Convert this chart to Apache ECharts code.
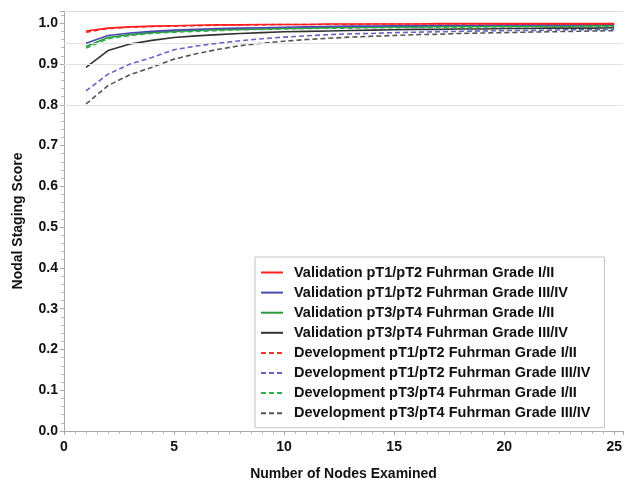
<!DOCTYPE html>
<html>
<head>
<meta charset="utf-8">
<script src="https://cdn.jsdelivr.net/npm/echarts@6/dist/echarts.min.js"></script>
<style>html,body{margin:0;padding:0;background:#fff}#c{width:625px;height:486px}</style>
</head>
<body>
<div id="c"></div>
<script>
const nodes = [1,2,3,4,5,6,7,8,9,10,11,12,13,14,15,16,17,18,19,20,21,22,23,24,25];
const seriesNames = [
  'Validation pT1/pT2 Fuhrman Grade I/II',
  'Validation pT1/pT2 Fuhrman Grade III/IV',
  'Validation pT3/pT4 Fuhrman Grade I/II',
  'Validation pT3/pT4 Fuhrman Grade III/IV',
  'Development pT1/pT2 Fuhrman Grade I/II',
  'Development pT1/pT2 Fuhrman Grade III/IV',
  'Development pT3/pT4 Fuhrman Grade I/II',
  'Development pT3/pT4 Fuhrman Grade III/IV'
];
const valT12G12 = [0.981,0.988,0.991,0.993,0.994,0.995,0.996,0.996,0.997,0.997,0.997,0.998,0.998,0.998,0.998,0.998,0.999,0.999,0.999,0.999,0.999,0.999,0.999,0.999,0.999];
const valT12G34 = [0.951,0.970,0.976,0.980,0.983,0.985,0.987,0.988,0.989,0.990,0.991,0.992,0.993,0.993,0.994,0.994,0.995,0.995,0.995,0.996,0.996,0.996,0.996,0.997,0.997];
const valT34G12 = [0.943,0.965,0.972,0.977,0.980,0.982,0.984,0.985,0.986,0.987,0.988,0.989,0.990,0.990,0.991,0.991,0.992,0.992,0.992,0.993,0.993,0.993,0.993,0.994,0.994];
const valT34G34 = [0.892,0.933,0.949,0.958,0.965,0.969,0.972,0.975,0.977,0.979,0.980,0.981,0.982,0.983,0.984,0.985,0.985,0.986,0.986,0.987,0.987,0.988,0.988,0.988,0.989];
const devT12G12 = [0.978,0.987,0.990,0.992,0.993,0.994,0.995,0.996,0.996,0.997,0.997,0.997,0.997,0.998,0.998,0.998,0.998,0.998,0.998,0.998,0.998,0.998,0.998,0.998,0.998];
const devT12G34 = [0.834,0.875,0.900,0.916,0.935,0.944,0.951,0.957,0.962,0.966,0.969,0.972,0.974,0.975,0.977,0.978,0.979,0.980,0.981,0.982,0.982,0.983,0.984,0.984,0.985];
const devT34G12 = [0.939,0.962,0.970,0.975,0.978,0.980,0.982,0.984,0.985,0.986,0.987,0.988,0.988,0.989,0.989,0.990,0.990,0.990,0.991,0.991,0.991,0.992,0.992,0.992,0.992];
const devT34G34 = [0.802,0.847,0.874,0.892,0.912,0.925,0.936,0.945,0.951,0.956,0.960,0.963,0.966,0.968,0.970,0.972,0.973,0.975,0.976,0.977,0.978,0.979,0.980,0.981,0.982];
const xTicks = [0,5,10,15,20,25];
const yTicks = [0,0.1,0.2,0.3,0.4,0.5,0.6,0.7,0.8,0.9,1.0];
const refLines = [0.8,0.9,0.95];

const allData = [valT12G12,valT12G34,valT34G12,valT34G34,devT12G12,devT12G34,devT34G12,devT34G34];
const colors = ['#ff2020','#4a4ab0','#2a9a3a','#333333','#ff3030','#6464c8','#30b048','#555555'];
const dashed = [false,false,false,false,true,true,true,true];
const zs = [8,5,4,3,7,6,4,2];

const font = '"Liberation Sans", Arial, Helvetica, sans-serif';
const series = allData.map((d,i)=>({
  name: seriesNames[i],
  type: 'line',
  data: d.map((v,k)=>[nodes[k], v]),
  showSymbol: false,
  symbol: 'none',
  z: zs[i],
  lineStyle: {color: colors[i], width: 1.6, type: dashed[i] ? [5,3] : 'solid'},
  itemStyle: {color: colors[i]},
  animation: false
}));
series.push({
  name: 'ref', type: 'line', data: [], silent: true, animation: false, z: 1,
  markLine: {
    silent: true, symbol: 'none', animation: false,
    label: {show: false},
    lineStyle: {color: '#e2e2e2', width: 1.2, type: 'solid'},
    data: refLines.map(v=>({yAxis: v}))
  }
});

const chart = echarts.init(document.getElementById('c'), null, {renderer: 'canvas'});
chart.setOption({
  backgroundColor: '#fff',
  animation: false,
  textStyle: {fontFamily: font},
  grid: {left: 64, right: 0, top: 11, bottom: 55, containLabel: false},
  legend: {
    data: seriesNames,
    orient: 'vertical',
    left: 255, top: 257,
    itemWidth: 22, itemHeight: 14, itemGap: 5.1,
    padding: [8, 14, 7, 5],
    borderColor: '#c4c4c4', borderWidth: 1,
    backgroundColor: '#fff',
    itemStyle: {opacity: 0, borderWidth: 0},
    textStyle: {fontFamily: font, fontWeight: 'bold', fontSize: 14.5, color: '#111', padding: [0,0,0,6], lineHeight: 14},
    selectedMode: false
  },
  xAxis: [{
    type: 'value', min: 0, max: 25.4, interval: 5,
    name: 'Number of Nodes Examined', nameLocation: 'middle', nameGap: 36,
    nameTextStyle: {fontFamily: font, fontWeight: 'bold', fontSize: 14, color: '#111'},
    axisLine: {show: true, lineStyle: {color: '#a8a8a8', width: 1}},
    axisTick: {show: true, length: 4, lineStyle: {color: '#a8a8a8'}},
    minorTick: {show: true, splitNumber: 10, length: 3, lineStyle: {color: '#b8b8b8'}},
    splitLine: {show: false},
    axisLabel: {
      fontFamily: font, fontWeight: 'bold', fontSize: 14, color: '#111', margin: 9,
      showMaxLabel: false,
      formatter: v => xTicks.includes(v) ? String(v) : ''
    }
  },{
    type: 'value', position: 'top', min: 0, max: 25.4,
    axisLine: {show: true, onZero: false, lineStyle: {color: '#dcdcdc', width: 1}},
    axisTick: {show: false}, axisLabel: {show: false}, splitLine: {show: false}
  }],
  yAxis: {
    type: 'value', min: 0, max: 1.03, interval: 0.1,
    name: 'Nodal Staging Score', nameLocation: 'middle', nameGap: 39,
    nameTextStyle: {fontFamily: font, fontWeight: 'bold', fontSize: 14, color: '#111'},
    axisLine: {show: true, lineStyle: {color: '#a8a8a8', width: 1}},
    axisTick: {show: true, length: 4, lineStyle: {color: '#a8a8a8'}},
    minorTick: {show: true, splitNumber: 5, length: 3, lineStyle: {color: '#b8b8b8'}},
    splitLine: {show: false},
    axisLabel: {
      fontFamily: font, fontWeight: 'bold', fontSize: 14, color: '#111', margin: 6,
      showMaxLabel: false,
      formatter: v => {
        const t = yTicks.find(y => Math.abs(y - v) < 1e-9);
        return t === undefined ? '' : t.toFixed(1);
      }
    }
  },
  series: series
});
</script>
</body>
</html>
